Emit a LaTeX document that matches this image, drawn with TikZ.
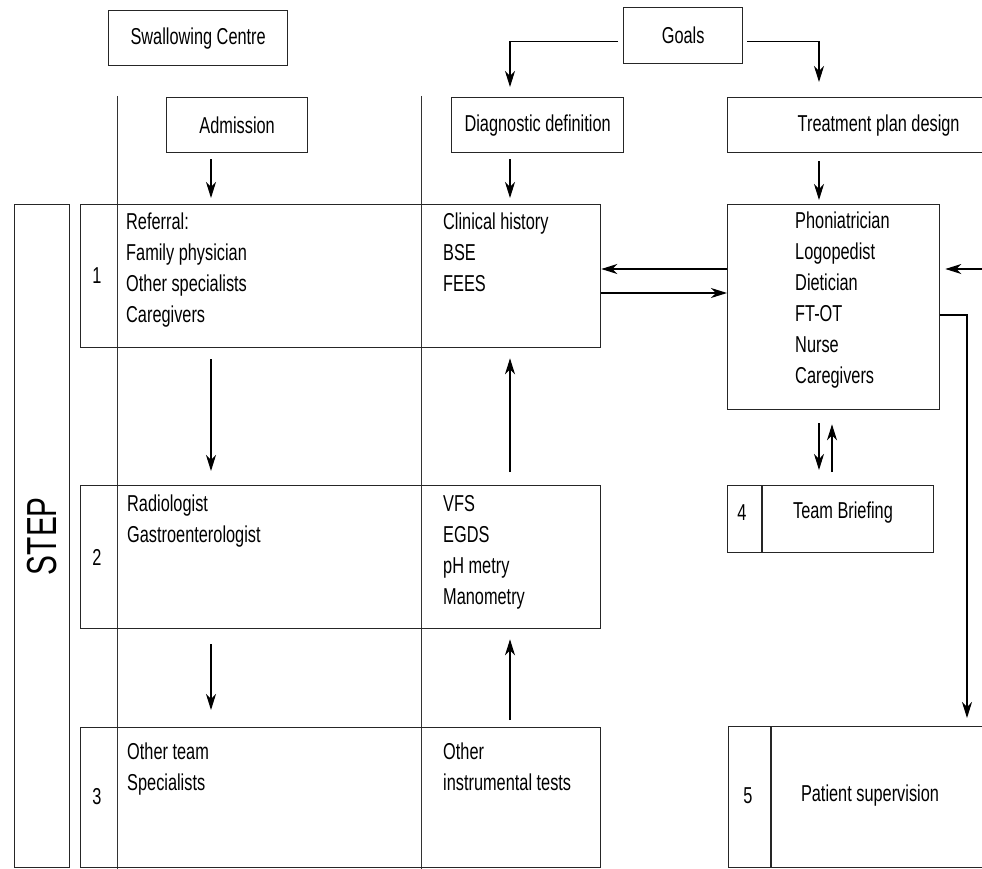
\documentclass[tikz,border=0pt]{standalone}
\usepackage{fontspec}
\setmainfont{Liberation Sans}[FakeStretch=0.71]
\usetikzlibrary{arrows.meta}

\tikzset{
  box/.style={draw=black!85,line width=1.3pt,inner sep=0pt,anchor=north west},
  txt/.style={inner sep=0pt,anchor=north west,align=left},
  num/.style={inner sep=0pt},
  arr/.style={->,line width=1.1pt},
  colline/.style={draw=black!80,line width=1pt},
}

\begin{document}
\begin{tikzpicture}[x=1pt,y=-1pt,>={Stealth[length=16pt,width=10pt,inset=5pt]},font=\fontsize{23}{31}\selectfont]
\useasboundingbox (0,0) rectangle (982,869);
\clip (0,0) rectangle (982,869);
% column guides
\draw[colline] (117,96)--(117,869);
\draw[colline] (421,96)--(421,869);
\coordinate (lc) at (211,0);
\coordinate (rc) at (510,0);
\coordinate (tc) at (819,0);
\coordinate (tc2) at (832,0);
% headers
\node[box,minimum width=179,minimum height=55] (swc) at (108,10) {Swallowing Centre};
\node[box,minimum width=119,minimum height=56] (goals) at (623,7) {Goals};
\node[box,minimum width=141,minimum height=55] (adm) at (166,97) {Admission};
\node[box,minimum width=172,minimum height=55] (dia) at (451,97) {Diagnostic definition};
\node[box,minimum width=302,minimum height=55] (treat) at (727,97) {Treatment plan design};
% step column
\node[box,minimum width=55,minimum height=663] (stepbox) at (14,204) {};
\node[rotate=90,inner sep=0pt,font=\fontsize{42}{42}\selectfont] (steplbl) at (stepbox.center) {STEP};
% rows
\node[box,minimum width=520,minimum height=143] (row1) at (80,204) {};
\node[box,minimum width=520,minimum height=143] (row2) at (80,485) {};
\node[box,minimum width=520,minimum height=140] (row3) at (80,727) {};
\node[num] (n1) at (97,276) {1};
\node[num] (n2) at (97,557) {2};
\node[num] (n3) at (97,797) {3};
\node[txt] (ref) at (126,213) {Referral:\\Family physician\\Other specialists\\Caregivers};
\node[txt] (clin) at (443,213) {Clinical history\\BSE\\FEES};
\node[txt] (rad) at (127,495) {Radiologist\\Gastroenterologist};
\node[txt] (vfs) at (443,495) {VFS\\EGDS\\pH metry\\Manometry};
\node[txt] (oth) at (127,743) {Other team\\Specialists};
\node[txt] (ins) at (443,743) {Other\\instrumental tests};
% team side
\node[box,minimum width=212,minimum height=205] (team) at (727,204) {};
\node[txt] (roles) at (795,212) {Phoniatrician\\Logopedist\\Dietician\\FT-OT\\Nurse\\Caregivers};
\node[box,minimum width=206,minimum height=67] (brief) at (727,485) {};
\draw[draw=black!85,line width=1.3pt] ([xshift=35pt]brief.north west) -- ([xshift=35pt]brief.south west);
\node[num] (n4) at (742,513) {4};
\node[num] (brieftxt) at (843,513) {Team Briefing};
\node[box,minimum width=301,minimum height=141] (sup) at (728,726) {};
\draw[draw=black!85,line width=1.3pt] ([xshift=43pt]sup.north west) -- ([xshift=43pt]sup.south west);
\node[num] (n5) at (748,796) {5};
\node[num] (suptxt) at (870,796) {Patient supervision};
% connectors
\draw[arr,shorten <=5pt,shorten >=10pt] ([yshift=-6pt]goals.west) -| (dia.north -| rc);
\draw[arr,shorten <=4pt,shorten >=15pt] ([yshift=-6pt]goals.east) -| (treat.north -| tc);
\draw[arr,shorten <=6pt,shorten >=6pt] (adm.south -| lc) -- (row1.north -| lc);
\draw[arr,shorten <=6pt,shorten >=6pt] (dia.south -| rc) -- (row1.north -| rc);
\draw[arr,shorten <=8pt,shorten >=4pt] (treat.south -| tc) -- (team.north -| tc);
\draw[arr,shorten <=11pt,shorten >=14pt] (row1.south -| lc) -- (row2.north -| lc);
\draw[arr,shorten <=15pt,shorten >=17pt] (row2.south -| lc) -- (row3.north -| lc);
\draw[arr,shorten <=13pt,shorten >=10pt] (row2.north -| rc) -- (row1.south -| rc);
\draw[arr,shorten <=7pt,shorten >=10pt] (row3.north -| rc) -- (row2.south -| rc);
\coordinate (ya) at (0,269);
\coordinate (yb) at (0,293);
\draw[arr] (team.west |- ya) -- (row1.east |- ya);
\draw[arr] (row1.east |- yb) -- (team.west |- yb);
\coordinate (fb) at (990,269);
\draw[arr,shorten >=5pt] (fb) -- (team.east |- fb);
\coordinate (sv) at (967,315);
\draw[arr,shorten >=8pt] (team.east |- sv) -- (sv) -- (sv |- sup.north);
\draw[arr,shorten <=13pt,shorten >=15pt] (team.south -| tc) -- (brief.north -| tc);
\draw[arr,shorten <=13pt,shorten >=14pt] (brief.north -| tc2) -- (team.south -| tc2);
\end{tikzpicture}
\end{document}
